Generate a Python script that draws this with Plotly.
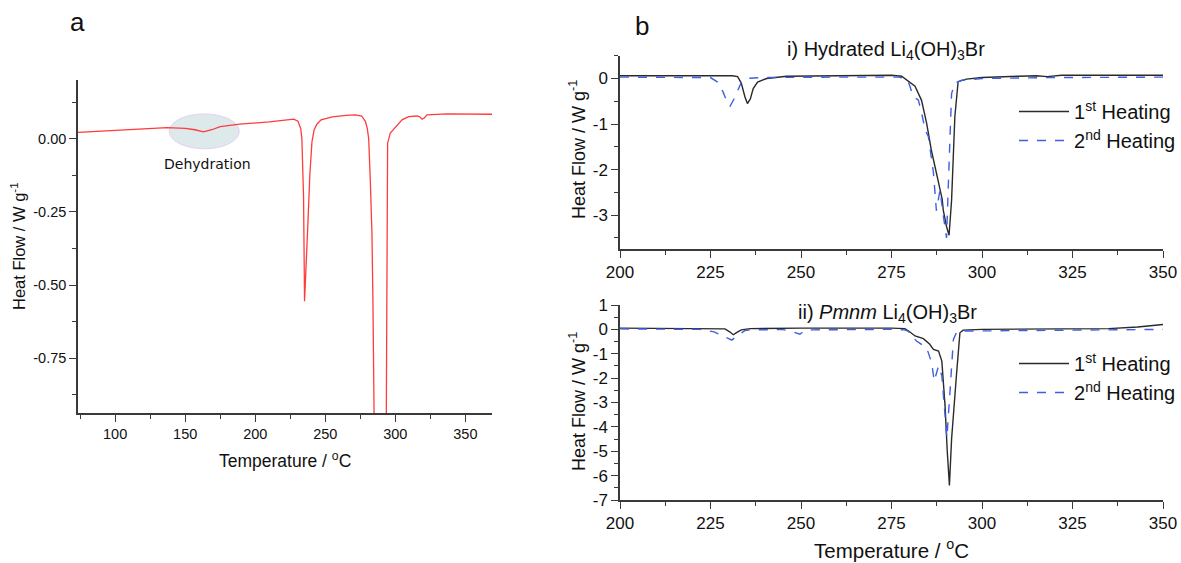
import plotly.graph_objects as go

W, H = 1181, 563

# ---------------- data ----------------
# Panel a: single DSC trace (red)
a_temp = [73.5, 100, 137, 150, 157, 163, 169, 175, 189, 210, 227.5, 230.5, 232.5, 233.3, 234.5,
          235.2, 236.3, 237.5, 239, 240.5, 242, 244, 247, 255, 265, 271.5, 276, 278.6, 280,
          281, 282.2, 283.3, 284, 285.7, 290.5, 293.5, 294, 294.5, 296.4, 301.2, 304.8, 309.5,
          315.5, 317.5, 319.1, 320.8, 322.6, 336.9, 369]
a_flow = [0.022, 0.029, 0.038, 0.036, 0.031, 0.024, 0.031, 0.042, 0.05, 0.058, 0.067, 0.06, 0.035,
          0.0, -0.2, -0.555, -0.45, -0.3, -0.12, -0.01, 0.03, 0.05, 0.065, 0.075, 0.08, 0.082,
          0.078, 0.06, 0.035, 0.0, -0.15, -0.32, -0.55, -0.935, -3.6, -1.0, -0.1, -0.015, 0.02,
          0.048, 0.065, 0.076, 0.078, 0.075, 0.067, 0.072, 0.082, 0.085, 0.084]

# Panel b i) Hydrated Li4(OH)3Br
bi_t1 = [200, 225, 231, 232.5, 233.5, 234.5, 235.2, 236, 236.8, 238, 240.5, 246, 260, 275, 277.8,
         279.5, 281.5, 283.3, 284.7, 286, 287.5, 288.4, 289, 289.3, 290.2, 290.9, 291.6, 292.5,
         293.4, 295.7, 300, 310, 315, 318, 322, 335, 350]
bi_v1 = [0.06, 0.06, 0.06, 0.04, -0.1, -0.4, -0.55, -0.45, -0.22, -0.08, 0.0, 0.05, 0.06, 0.07, 0.05,
         -0.05, -0.17, -0.48, -0.98, -1.57, -2.08, -2.45, -2.65, -2.89, -3.25, -3.44, -2.67, -0.84,
         -0.07, -0.015, 0.02, 0.05, 0.06, 0.04, 0.07, 0.07, 0.07]
bi_t2 = [200, 222, 225, 227, 228.5, 229.5, 230.4, 231.5, 232.5, 233.6, 235, 238.7, 260, 277, 279.2,
         280, 281, 282.4, 283.3, 284.3, 285.2, 286, 286.6, 287.4, 288.4, 289.3, 290.2, 291.2, 291.6,
         292.5, 294.4, 300, 320, 350]
bi_v2 = [0.03, 0.03, 0.02, -0.08, -0.3, -0.5, -0.61, -0.45, -0.25, -0.07, 0.0, 0.02, 0.03, 0.03, 0.0,
         -0.15, -0.4, -0.47, -0.75, -1.13, -1.28, -1.7, -2.08, -2.9, -2.45, -3.0, -3.5, -1.2, -0.33,
         -0.1, -0.04, 0.0, 0.02, 0.03]

# Panel b ii) Pmnm Li4(OH)3Br
bii_t1 = [200, 227, 229, 230.3, 231.3, 232.3, 233.5, 236, 250, 275, 278.7, 280, 281.5, 283.8, 285.5,
          286.6, 288, 288.9, 289.8, 290.4, 291, 291.6, 292.3, 293, 293.9, 294.8, 300, 320, 335, 343, 350]
bii_v1 = [0.05, 0.05, 0.02, -0.1, -0.22, -0.12, -0.02, 0.03, 0.05, 0.05, 0.03, -0.1, -0.27, -0.38, -0.6,
          -0.82, -0.89, -1.3, -3.15, -5.0, -6.4, -4.5, -3.0, -1.77, -0.14, -0.03, 0.0, 0.0, 0.03, 0.1, 0.2]
bii_t2 = [200, 222, 226, 229, 230.9, 232.5, 234.5, 236, 245, 247, 249.7, 251, 253, 275, 278.5, 279.6,
          281.9, 284.7, 286.1, 286.8, 288, 288.9, 289.6, 290.3, 291.2, 292.1, 293, 294.8, 310, 350]
bii_v2 = [0.02, 0.0, -0.1, -0.3, -0.44, -0.25, -0.05, -0.02, -0.01, -0.06, -0.2, -0.05, -0.02, 0.0,
          -0.02, -0.07, -0.48, -0.75, -1.37, -2.12, -1.5, -1.9, -3.2, -4.45, -2.46, -0.41, -0.11,
          -0.07, -0.05, 0.0]

series_names = ["1<sup>st</sup> Heating", "2<sup>nd</sup> Heating"]

# tick labels (hyphen-minus as in the reference)
a_yticks = [0.0, -0.25, -0.5, -0.75]
a_yticklabels = ["0.00", "-0.25", "-0.50", "-0.75"]
bi_yticks = [0, -1, -2, -3]
bi_yticklabels = ["0", "-1", "-2", "-3"]
bii_yticks = [1, 0, -1, -2, -3, -4, -5, -6, -7]
bii_yticklabels = ["1", "0", "-1", "-2", "-3", "-4", "-5", "-6", "-7"]

# ---------------- figure ----------------
def px_x(p):
    return p / W

def px_y(p):
    return 1 - p / H

RED = "#ff3b3b"
BLACK = "#2a2a2a"
BLUE = "#3f5fe0"
AXC = "#3a3a3a"

fig = go.Figure()

fig.add_trace(go.Scatter(x=a_temp, y=a_flow, mode="lines", line=dict(color=RED, width=1.3),
                         xaxis="x", yaxis="y", showlegend=False))

fig.add_trace(go.Scatter(x=bi_t1, y=bi_v1, mode="lines", name=series_names[0],
                         line=dict(color=BLACK, width=1.4), xaxis="x2", yaxis="y2", legend="legend"))
fig.add_trace(go.Scatter(x=bi_t2, y=bi_v2, mode="lines", name=series_names[1],
                         line=dict(color=BLUE, width=1.4, dash="dash"), xaxis="x2", yaxis="y2", legend="legend"))

fig.add_trace(go.Scatter(x=bii_t1, y=bii_v1, mode="lines", name=series_names[0],
                         line=dict(color=BLACK, width=1.4), xaxis="x3", yaxis="y3", legend="legend2"))
fig.add_trace(go.Scatter(x=bii_t2, y=bii_v2, mode="lines", name=series_names[1],
                         line=dict(color=BLUE, width=1.4, dash="dash"), xaxis="x3", yaxis="y3", legend="legend2"))

FONT = "Liberation Sans, Arial, sans-serif"

def axis(domain, rng, dtick, mdtick, anchor, fsize, tickvals=None, ticktext=None):
    d = dict(domain=domain, range=rng, showgrid=False, zeroline=False, showline=True,
             linecolor=AXC, linewidth=1.5, ticks="outside", ticklen=7, tickwidth=1.3,
             tickcolor=AXC, anchor=anchor, automargin=False,
             tickfont=dict(family=FONT, size=fsize, color="#111"),
             minor=dict(tickmode="linear", tick0=0, dtick=mdtick, ticks="outside", ticklen=4,
                        tickwidth=1.1, tickcolor=AXC))
    if tickvals is not None:
        d.update(tickmode="array", tickvals=tickvals, ticktext=ticktext)
    else:
        d.update(tickmode="linear", tick0=0, dtick=dtick)
    return d

fig.update_layout(
    width=W, height=H, margin=dict(l=0, r=0, t=0, b=0, autoexpand=False),
    paper_bgcolor="white", plot_bgcolor="white",
    font=dict(family=FONT, color="#111"),
    xaxis=axis([px_x(78), px_x(492)], [73.5, 369], 50, 25, "y", 14.5),
    yaxis=axis([px_y(413), px_y(80)], [-0.937, 0.201], 0.25, 0.125, "x", 14.5, a_yticks, a_yticklabels),
    xaxis2=axis([px_x(620), px_x(1163)], [200, 350], 25, 12.5, "y2", 17),
    yaxis2=axis([px_y(249.3), px_y(55.7)], [-3.75, 0.5], 1, 0.5, "x2", 17, bi_yticks, bi_yticklabels),
    xaxis3=axis([px_x(620), px_x(1163)], [200, 350], 25, 12.5, "y3", 17),
    yaxis3=axis([px_y(500), px_y(305)], [-7, 1], 1, 0.5, "x3", 17, bii_yticks, bii_yticklabels),
    legend=dict(x=1.0, y=px_y(92), xanchor="right", yanchor="top", bgcolor="rgba(0,0,0,0)",
                font=dict(family=FONT, size=20, color="#111"), itemwidth=50, tracegroupgap=0),
    legend2=dict(x=1.0, y=px_y(344), xanchor="right", yanchor="top", bgcolor="rgba(0,0,0,0)",
                 font=dict(family=FONT, size=20, color="#111"), itemwidth=50, tracegroupgap=0),
)

fig.add_shape(type="circle", xref="x", yref="y", x0=138.6, x1=188.6, y0=-0.034, y1=0.085,
              fillcolor="rgba(200,218,224,0.6)", line=dict(color="#e2d2f4", width=1), layer="below")

def ann(text, x, y, size, angle=0, family=FONT):
    fig.add_annotation(text=text, x=x, y=y, xref="paper", yref="paper", showarrow=False,
                       xanchor="center", yanchor="middle", textangle=angle,
                       font=dict(family=family, size=size, color="#111"))

ann("a", px_x(77), px_y(22), 26)
ann("b", px_x(642), px_y(26), 26)
ann("Dehydration", px_x(207), px_y(164), 14, family="DejaVu Sans, Verdana, sans-serif")
ann("Temperature / <sup>o</sup>C", px_x(285), px_y(460), 17.5)
ann("Heat Flow / W g<sup>-1</sup>", px_x(18), px_y(246), 16.5, angle=-90)
ann("Heat Flow / W g<sup>-1</sup>", px_x(577), px_y(150), 18, angle=-90)
ann("Heat Flow / W g<sup>-1</sup>", px_x(577), px_y(402), 18, angle=-90)
ann("Temperature / <sup>o</sup>C", px_x(891), px_y(549), 20.5)
ann("i) Hydrated Li<sub>4</sub>(OH)<sub>3</sub>Br", px_x(886), px_y(50), 20)
ann("ii) <i>Pmnm</i> Li<sub>4</sub>(OH)<sub>3</sub>Br", px_x(887), px_y(313), 20)

fig.write_html("out.html")
